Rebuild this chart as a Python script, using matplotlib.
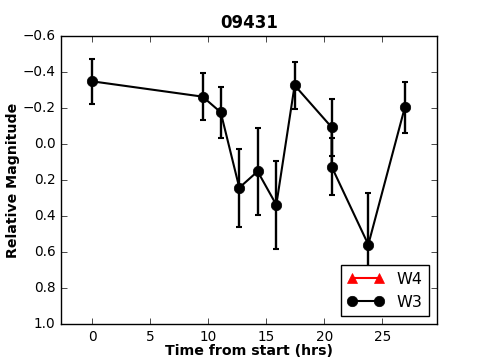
import matplotlib
matplotlib.use('Agg')
import matplotlib.pyplot as plt

plt.style.use('classic')
plt.rcParams['font.family'] = 'DejaVu Sans'

# W3 light curve
w3_time = [0.0, 9.5, 11.06, 12.66, 14.24, 15.85, 17.43, 20.62, 20.62, 23.78, 26.93]
w3_mag = [-0.348, -0.263, -0.176, 0.243, 0.152, 0.338, -0.326, -0.093, 0.126, 0.559, -0.204]
w3_err = [0.124, 0.131, 0.141, 0.218, 0.242, 0.245, 0.129, 0.158, 0.159, 0.285, 0.143]

# W4 has no points in this plot
w4_time = []
w4_mag = []

fig = plt.figure(figsize=(4.85, 3.6), dpi=100, facecolor='white')
ax = fig.add_axes([0.126, 0.1, 0.775, 0.8])

ax.plot(w4_time, w4_mag, '^-', color='red', mec='red', lw=1.5, ms=6.5, label='W4')
ax.plot(w3_time, w3_mag, 'o-', color='black', lw=1.5, ms=7.5, label='W3')
ax.errorbar(w3_time, w3_mag, yerr=w3_err, fmt='none', ecolor='black',
            elinewidth=1.7, capsize=2.5, capthick=1.5)

ax.set_xlim(-2.7, 29.7)
ax.set_ylim(1.0, -0.6)
ax.set_xticks([0, 5, 10, 15, 20, 25])
ax.set_yticks([-0.6, -0.4, -0.2, 0.0, 0.2, 0.4, 0.6, 0.8, 1.0])
ax.tick_params(labelsize=9.8)

ax.set_title('09431', fontsize=12, fontweight='bold', pad=6)
ax.set_xlabel('Time from start (hrs)', fontsize=10.2, fontweight='bold', labelpad=0)
ax.set_ylabel('Relative Magnitude', fontsize=10.2, fontweight='bold', labelpad=2)

ax.legend(loc='lower right', numpoints=2, fontsize=11.5, borderaxespad=0.5,
          handlelength=2.3)

fig.savefig('out.png', dpi=100, facecolor='white')
